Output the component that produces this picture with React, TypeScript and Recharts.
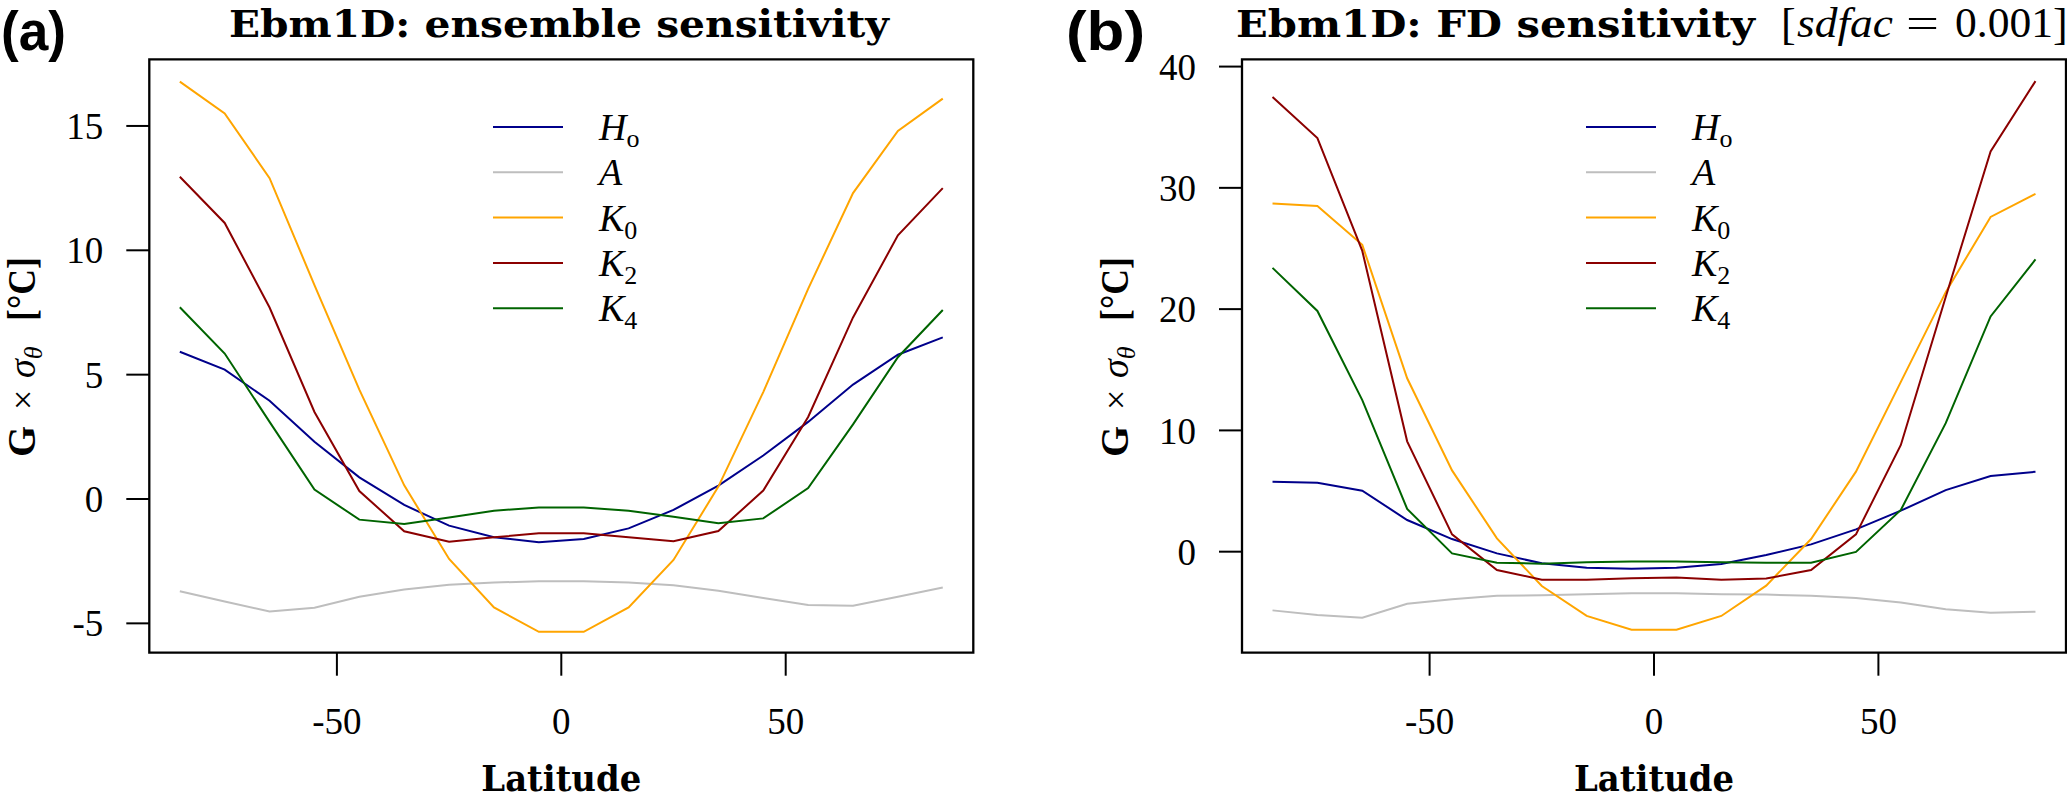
import React from "react";
import { LineChart, Line, XAxis, YAxis, ReferenceArea, Legend } from "recharts";

const latitude = [-85, -75, -65, -55, -45, -35, -25, -15, -5, 5, 15, 25, 35, 45, 55, 65, 75, 85];

// (a) ensemble sensitivity
const ensHo = [5.92, 5.2, 3.95, 2.3, 0.87, -0.24, -1.07, -1.54, -1.74, -1.61, -1.18, -0.44, 0.54, 1.75, 3.1, 4.6, 5.8, 6.5];
const ensA = [-3.71, -4.12, -4.52, -4.37, -3.93, -3.64, -3.45, -3.36, -3.31, -3.31, -3.36, -3.47, -3.69, -3.98, -4.26, -4.29, -3.93, -3.56];
const ensK0 = [16.78, 15.5, 12.9, 8.6, 4.4, 0.55, -2.41, -4.36, -5.34, -5.34, -4.36, -2.45, 0.5, 4.3, 8.45, 12.3, 14.8, 16.1];
const ensK2 = [12.96, 11.1, 7.7, 3.5, 0.32, -1.3, -1.72, -1.54, -1.38, -1.38, -1.54, -1.7, -1.29, 0.34, 3.3, 7.3, 10.6, 12.5];
const ensK4 = [7.71, 5.85, 3.1, 0.38, -0.83, -1.0, -0.74, -0.47, -0.34, -0.34, -0.47, -0.71, -0.97, -0.78, 0.44, 3.0, 5.7, 7.6];

// (b) finite-difference sensitivity
const fdHo = [5.77, 5.69, 5.03, 2.61, 1.04, -0.14, -0.96, -1.32, -1.4, -1.32, -1.02, -0.27, 0.6, 1.84, 3.38, 5.08, 6.24, 6.59];
const fdA = [-4.84, -5.22, -5.44, -4.29, -3.93, -3.63, -3.6, -3.52, -3.43, -3.43, -3.52, -3.54, -3.63, -3.82, -4.2, -4.75, -5.03, -4.95];
const fdK0 = [28.7, 28.5, 25.3, 14.3, 6.7, 1.1, -2.83, -5.3, -6.43, -6.43, -5.3, -2.8, 1.04, 6.6, 14.0, 21.4, 27.6, 29.5];
const fdK2 = [37.5, 34.1, 24.8, 9.1, 1.43, -1.51, -2.31, -2.31, -2.2, -2.12, -2.31, -2.22, -1.51, 1.43, 8.8, 21.0, 33.0, 38.8];
const fdK4 = [23.4, 19.85, 12.5, 3.52, -0.14, -0.91, -0.99, -0.88, -0.8, -0.8, -0.88, -0.91, -0.91, -0.02, 3.44, 10.6, 19.4, 24.1];

const seriesKeys = ["Ho", "A", "K0", "K2", "K4"];
const seriesColors: Record<string, string> = {
  Ho: "#00008B",
  A: "#BEBEBE",
  K0: "#FFA500",
  K2: "#8B0000",
  K4: "#006400",
};

const xDomain = [-91.8, 91.8];
const xTicks = [-50, 0, 50];
const ensYDomain = [-6.18, 17.68];
const ensYTicks = [-5, 0, 5, 10, 15];
const fdYDomain = [-8.33, 40.6];
const fdYTicks = [0, 10, 20, 30, 40];

const buildRows = (cols: Record<string, number[]>) =>
  latitude.map((lat, i) => {
    const row: Record<string, number> = { lat };
    seriesKeys.forEach((k) => (row[k] = cols[k][i]));
    return row;
  });

const ensRows = buildRows({ Ho: ensHo, A: ensA, K0: ensK0, K2: ensK2, K4: ensK4 });
const fdRows = buildRows({ Ho: fdHo, A: fdA, K0: fdK0, K2: fdK2, K4: fdK4 });

const H = 799;
const PLOT_TOP = 59.3;
const PLOT_BOTTOM = 652.7;
const serif = "'Liberation Serif', 'DejaVu Serif', serif";
const boldSerif = "'DejaVu Serif', serif";

const tickLineStyle = { stroke: "#000", strokeWidth: 2 };

// tick labels drawn by hand so the serif font sticks
const XTick = ({ x, y, payload }: any) => (
  <text x={x} y={y} dy="0.71em" textAnchor="middle" fontFamily={serif} fontSize={37} fill="#000">
    {payload.value}
  </text>
);
const YTick = ({ x, y, payload }: any) => (
  <text x={x} y={y} dy="0.355em" textAnchor="end" fontFamily={serif} fontSize={37} fill="#000">
    {payload.value}
  </text>
);

// legend labels, math style
const legendLabel = (k: string) => {
  if (k === "Ho")
    return (
      <>
        <tspan fontStyle="italic">H</tspan>
        <tspan fontSize={26} dy={7}>o</tspan>
      </>
    );
  if (k === "A") return <tspan fontStyle="italic">A</tspan>;
  return (
    <>
      <tspan fontStyle="italic">K</tspan>
      <tspan fontSize={26} dy={8}>{k.slice(1)}</tspan>
    </>
  );
};

const renderLegend = (props: any) => {
  const items = ((props.payload || []) as any[])
    .slice()
    .sort((a, b) => seriesKeys.indexOf(String(a.value)) - seriesKeys.indexOf(String(b.value)));
  return (
    <svg width={260} height={240} style={{ display: "block" }}>
      {items.map((entry, i) => {
        const y = 20 + 45.3 * i;
        const key = String(entry.value);
        return (
          <g key={key}>
            <line x1={0} x2={70} y1={y} y2={y} stroke={entry.color} strokeWidth={2} />
            <text x={106} y={y + 13} fontFamily={serif} fontSize={38} fill="#000">
              {legendLabel(key)}
            </text>
          </g>
        );
      })}
    </svg>
  );
};

function Panel({ left, width, plotLeft, plotRight, rows, yDomain, yTicks }: any) {
  const yAxisWidth = 60;
  const xAxisHeight = 40;
  return (
    <div style={{ position: "absolute", left, top: 0 }}>
      <LineChart
        width={width}
        height={H}
        data={rows}
        margin={{
          top: PLOT_TOP,
          right: left + width - plotRight,
          bottom: H - PLOT_BOTTOM - xAxisHeight,
          left: plotLeft - left - yAxisWidth,
        }}
      >
        <XAxis
          dataKey="lat"
          type="number"
          domain={xDomain}
          ticks={xTicks}
          allowDataOverflow
          interval={0}
          height={xAxisHeight}
          tickSize={23}
          tickMargin={32}
          axisLine={false}
          tickLine={tickLineStyle}
          tick={XTick}
        />
        <YAxis
          type="number"
          domain={yDomain}
          ticks={yTicks}
          allowDataOverflow
          interval={0}
          width={yAxisWidth}
          tickSize={23}
          tickMargin={23}
          axisLine={false}
          tickLine={tickLineStyle}
          tick={YTick}
        />
        {seriesKeys.map((k) => (
          <Line
            key={k}
            type="linear"
            dataKey={k}
            name={k}
            stroke={seriesColors[k]}
            strokeWidth={2}
            dot={false}
            activeDot={false}
            isAnimationActive={false}
          />
        ))}
        <ReferenceArea
          x1={xDomain[0]}
          x2={xDomain[1]}
          y1={yDomain[0]}
          y2={yDomain[1]}
          fill="none"
          stroke="#000"
          strokeWidth={2.3}
          ifOverflow="visible"
        />
        <Legend
          layout="vertical"
          align="center"
          verticalAlign="middle"
          itemSorter={null as any}
          wrapperStyle={{ left: plotLeft - left + 344, top: 106.7, width: 260 }}
          content={renderLegend}
        />
      </LineChart>
    </div>
  );
}

function YLabel({ boxLeft }: { boxLeft: number }) {
  return (
    <g transform={`translate(${boxLeft - 114}, 457) rotate(-90)`} fill="#000">
      <text x={0} y={0} fontFamily={serif} fontWeight="bold" fontSize={40}>G</text>
      <text x={47} y={0} fontFamily={serif} fontSize={36}>×</text>
      <text x={79} y={0} fontFamily={serif} fontStyle="italic" fontSize={38}>
        σ<tspan fontSize={26} dy={7}>θ</tspan>
      </text>
      <text x={136} y={0} fontFamily={serif} fontWeight="bold" fontSize={40} textLength={64} lengthAdjust="spacingAndGlyphs">
        [°C]
      </text>
    </g>
  );
}

export default function App() {
  return (
    <div style={{ position: "absolute", left: 0, top: 0, width: 2067, height: H, background: "#fff", overflow: "hidden" }}>
      <style>{`body{margin:0;overflow:hidden;background:#fff}`}</style>
      <Panel left={0} width={1033} plotLeft={149.3} plotRight={973.3} rows={ensRows} yDomain={ensYDomain} yTicks={ensYTicks} />
      <Panel left={1033} width={1034} plotLeft={1242} plotRight={2066} rows={fdRows} yDomain={fdYDomain} yTicks={fdYTicks} />
      <svg width={2067} height={H} style={{ position: "absolute", left: 0, top: 0, pointerEvents: "none" }}>
        <text x={1} y={50} fontFamily="'Liberation Sans', sans-serif" fontWeight="bold" fontSize={55} textLength={65} lengthAdjust="spacingAndGlyphs">(a)</text>
        <text x={1066} y={50} fontFamily="'Liberation Sans', sans-serif" fontWeight="bold" fontSize={55} textLength={79} lengthAdjust="spacingAndGlyphs">(b)</text>

        <text x={229} y={37} fontFamily={boldSerif} fontWeight="bold" fontSize={38} textLength={660} lengthAdjust="spacingAndGlyphs">
          Ebm1D: ensemble sensitivity
        </text>
        <text x={1236} y={37} fontFamily={boldSerif} fontWeight="bold" fontSize={38} textLength={519} lengthAdjust="spacingAndGlyphs">
          Ebm1D: FD sensitivity
        </text>
        <text x={1781} y={39} fontFamily={serif} fontSize={44}>[</text>
        <text x={1797} y={37} fontFamily={serif} fontStyle="italic" fontSize={43} textLength={96} lengthAdjust="spacingAndGlyphs">sdfac</text>
        <text x={1906} y={37} fontFamily={serif} fontSize={43} textLength={33} lengthAdjust="spacingAndGlyphs">=</text>
        <text x={1955} y={37} fontFamily={serif} fontSize={43} textLength={98} lengthAdjust="spacingAndGlyphs">0.001</text>
        <text x={2053} y={39} fontFamily={serif} fontSize={44}>]</text>

        <YLabel boxLeft={149.3} />
        <YLabel boxLeft={1242} />

        <text x={561.3} y={791} textAnchor="middle" fontFamily={boldSerif} fontWeight="bold" fontSize={35} textLength={160} lengthAdjust="spacingAndGlyphs">
          Latitude
        </text>
        <text x={1654} y={791} textAnchor="middle" fontFamily={boldSerif} fontWeight="bold" fontSize={35} textLength={160} lengthAdjust="spacingAndGlyphs">
          Latitude
        </text>
      </svg>
    </div>
  );
}
